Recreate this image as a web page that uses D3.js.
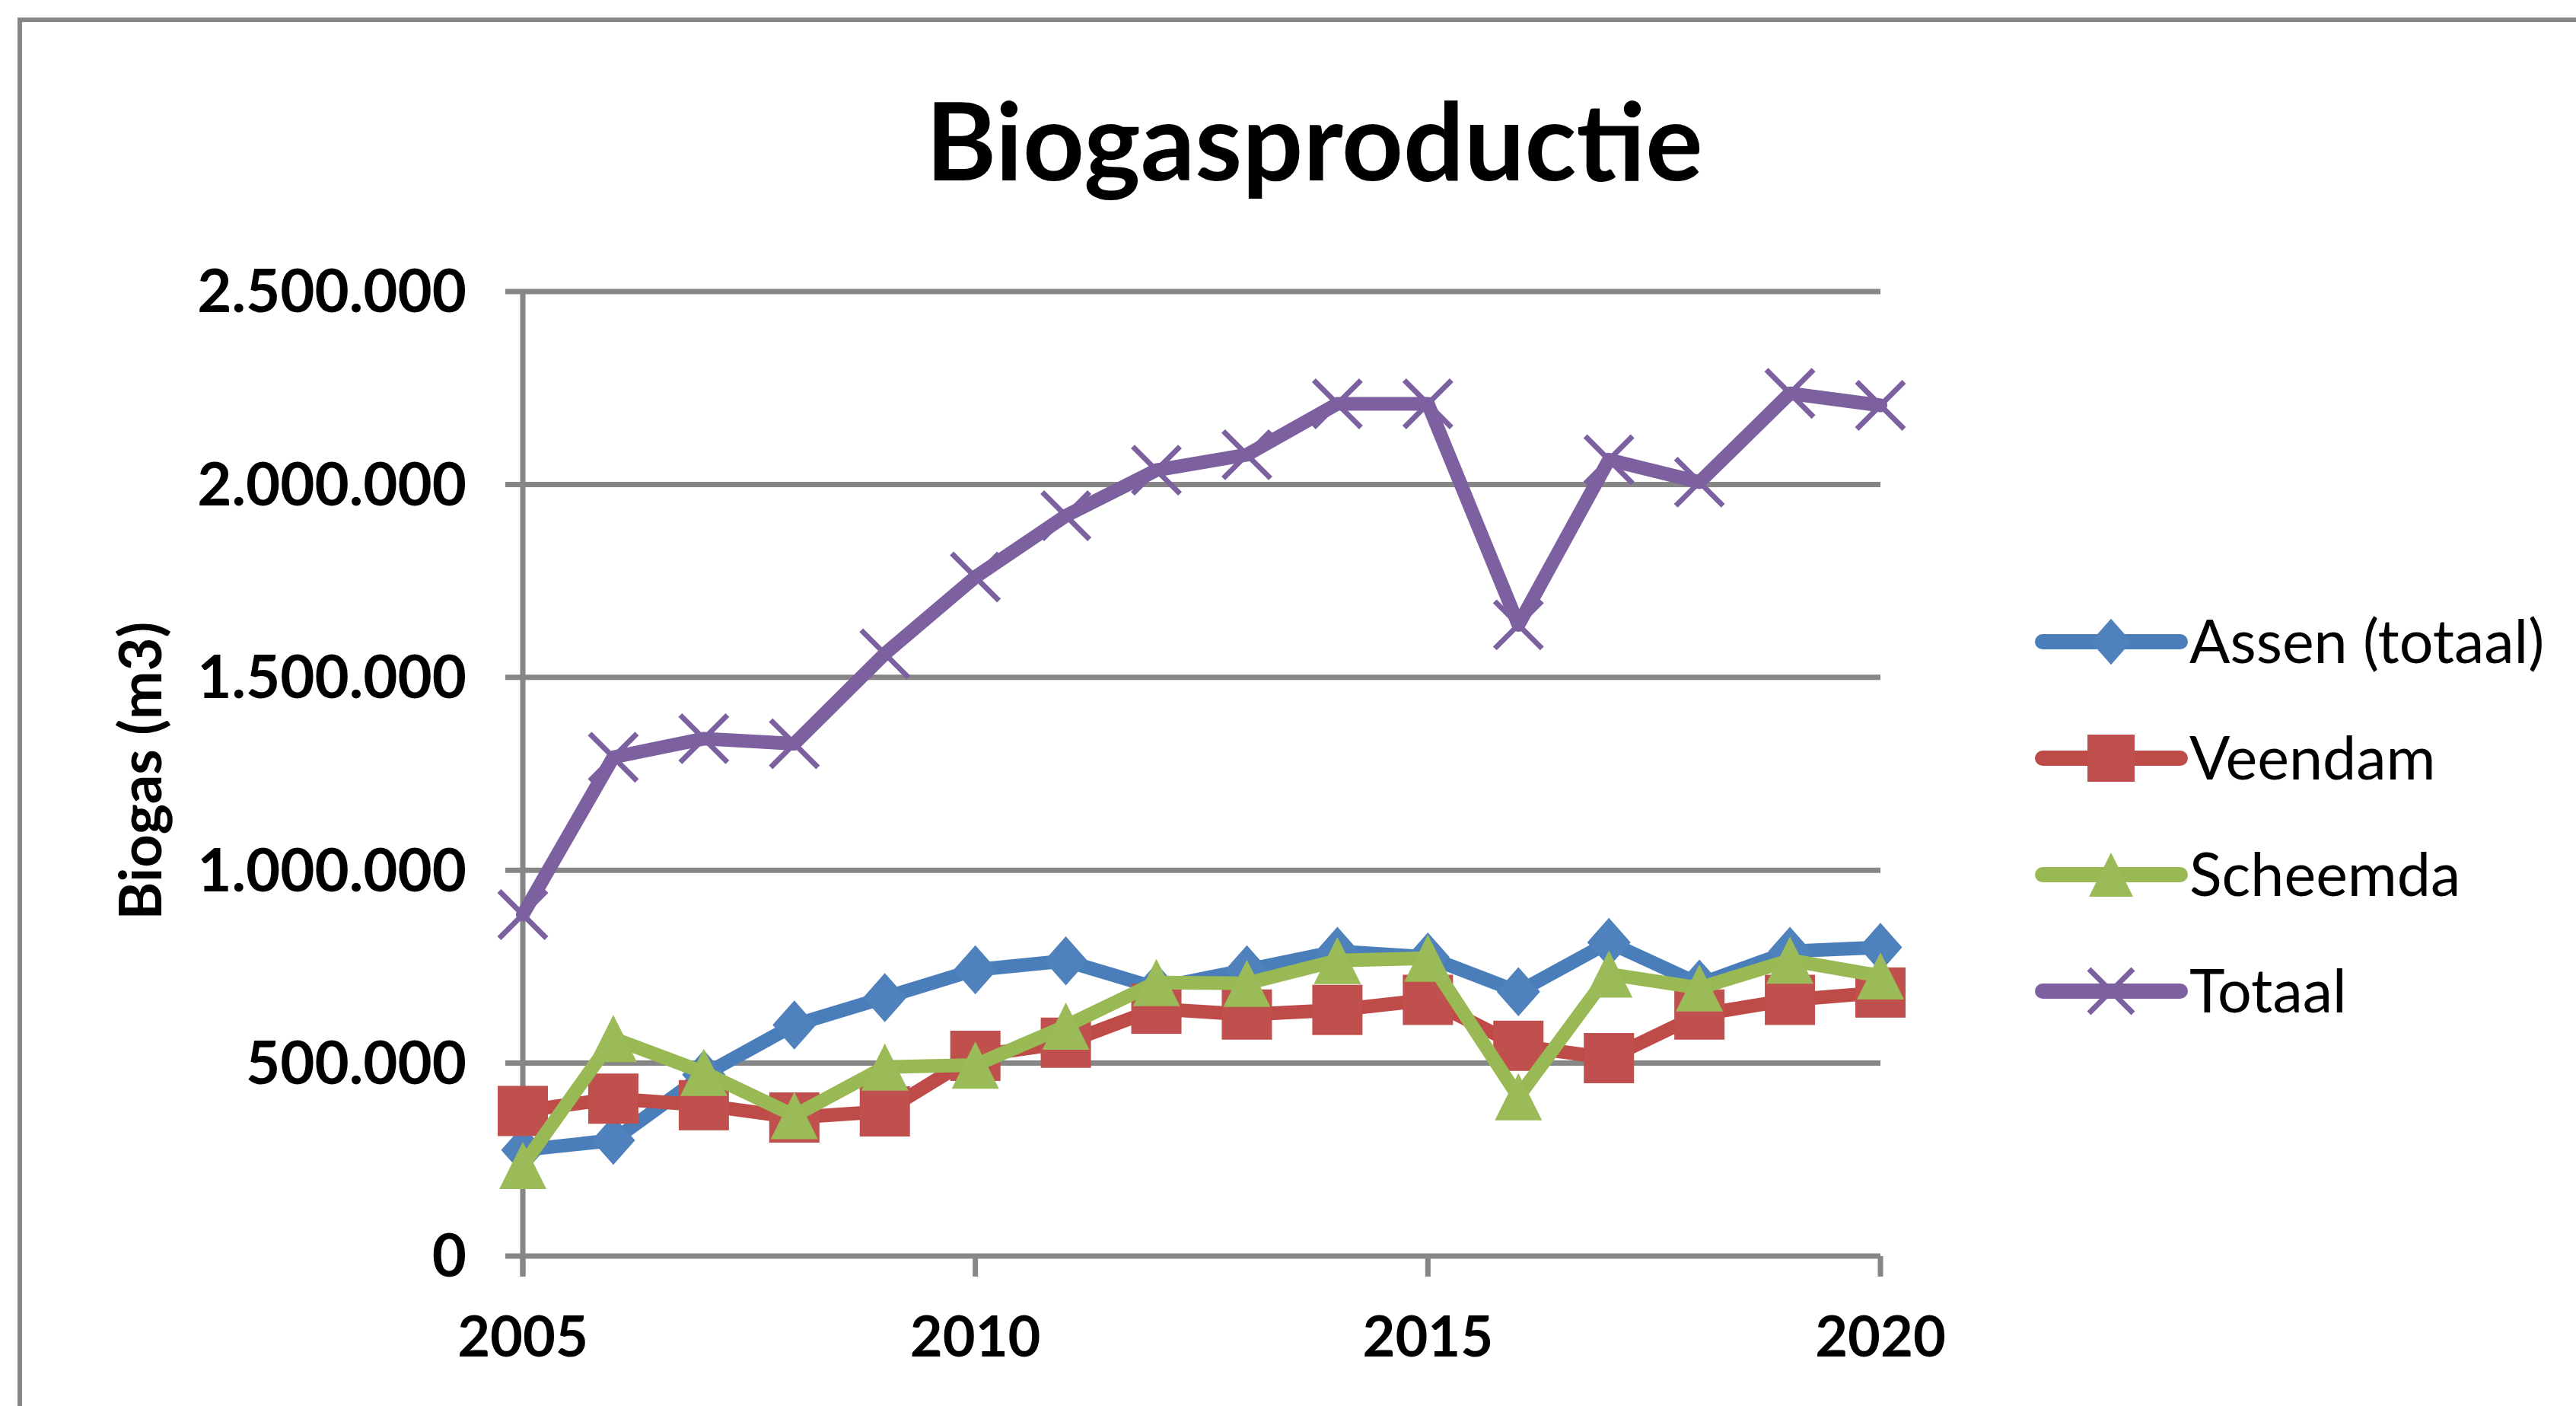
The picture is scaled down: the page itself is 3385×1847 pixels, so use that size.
<!DOCTYPE html>
<html>
<head>
<meta charset="utf-8">
<script src="https://cdn.jsdelivr.net/npm/d3@7"></script>
<style>
  body { margin: 0; background: #fff; }
  .chart text { font-family: Lato, "Open Sans", sans-serif; fill: #000; }
  .tickLbl { font-weight: bold; }
</style>
</head>
<body>
<div class="chart"></div>
<script>
"use strict";
// data
var years = [2005, 2006, 2007, 2008, 2009, 2010, 2011, 2012, 2013, 2014, 2015, 2016, 2017, 2018, 2019, 2020];
var assen    = [275000, 300000, 470000, 599000, 670000, 742000, 765000, 695000, 742000, 790000, 775000, 685000, 813000, 705000, 790000, 800000];
var veendam  = [376000, 408000, 391000, 359000, 375000, 519000, 553000, 641000, 626000, 638000, 664000, 545000, 513000, 626000, 664000, 683000];
var scheemda = [235000, 564000, 476000, 364000, 490000, 495000, 596000, 709000, 707000, 766000, 772000, 413000, 731000, 695000, 767000, 726000];
var totaal   = [885000, 1293000, 1341000, 1328000, 1561000, 1760000, 1919000, 2037000, 2077000, 2209000, 2209000, 1636000, 2064000, 2006000, 2236000, 2205000];
var seriesNames = ["Assen (totaal)", "Veendam", "Scheemda", "Totaal"];
var yTicks = [0, 500000, 1000000, 1500000, 2000000, 2500000];
var xTicks = [2005, 2010, 2015, 2020];

var W = 3385, H = 1847;
var margin = { top: 383, right: 914, bottom: 197, left: 687 };
var width = W - margin.left - margin.right,
    height = H - margin.top - margin.bottom;

var series = [
  { name: seriesNames[0], values: assen,    line: "#4a7ebb", fill: "#4f81bd", shape: "diamond" },
  { name: seriesNames[1], values: veendam,  line: "#be4b48", fill: "#c0504d", shape: "square" },
  { name: seriesNames[2], values: scheemda, line: "#98b954", fill: "#9bbb59", shape: "triangle" },
  { name: seriesNames[3], values: totaal,   line: "#7d60a0", fill: "#8064a2", shape: "x" }
];

var nl = d3.formatLocale({ decimal: ",", thousands: ".", grouping: [3], currency: ["€", ""] });
var fmt = nl.format(",d");

var svg = d3.select(".chart").append("svg")
    .attr("width", W).attr("height", H);

//outer frame
svg.append("rect")
    .attr("x", 26).attr("y", 26)
    .attr("width", W + 40).attr("height", H + 40)
    .style("fill", "none").style("stroke", "#868686").style("stroke-width", 6);

//title
svg.append("text")
    .attr("x", 1727).attr("y", 237)
    .attr("text-anchor", "middle")
    .style("font-size", "141px").style("font-weight", "bold")
    .text("Biogasproductie");

var g = svg.append("g")
    .attr("transform", "translate(" + margin.left + "," + margin.top + ")");

var x = d3.scaleLinear().domain([2005, 2020]).range([0, width]);
var y = d3.scaleLinear().domain([0, 2500000]).range([height, 0]);

//gridlines
g.selectAll(".grid").data(yTicks).enter()
  .append("line").attr("class", "grid")
  .attr("x1", -23).attr("x2", width)
  .attr("y1", function(d){ return y(d); })
  .attr("y2", function(d){ return y(d); })
  .style("stroke", "#868686").style("stroke-width", 7);

//y axis line
g.append("line")
  .attr("x1", 0).attr("x2", 0).attr("y1", 0).attr("y2", height + 27)
  .style("stroke", "#868686").style("stroke-width", 7);

//x ticks
g.selectAll(".xTick").data(xTicks).enter()
  .append("line").attr("class", "xTick")
  .attr("x1", function(d){ return x(d); })
  .attr("x2", function(d){ return x(d); })
  .attr("y1", height).attr("y2", height + 27)
  .style("stroke", "#868686").style("stroke-width", 7);

//tick labels
g.selectAll(".yLbl").data(yTicks).enter()
  .append("text").attr("class", "tickLbl yLbl")
  .attr("x", -74)
  .attr("y", function(d){ return y(d); })
  .attr("dy", "0.35em")
  .attr("text-anchor", "end")
  .style("font-size", "78px")
  .text(function(d){ return fmt(d); });

g.selectAll(".xLbl").data(xTicks).enter()
  .append("text").attr("class", "tickLbl xLbl")
  .attr("x", function(d){ return x(d); })
  .attr("y", height + 132)
  .attr("text-anchor", "middle")
  .style("font-size", "74px")
  .text(function(d){ return d; });

//y axis title
svg.append("text")
  .attr("transform", "translate(212," + (margin.top + height / 2 - 4) + ") rotate(-90)")
  .attr("text-anchor", "middle")
  .style("font-size", "76px").style("font-weight", "bold")
  .text("Biogas (m3)");

//markers
function drawMarker(sel, shape, s) {
  if (shape === "diamond") {
    sel.append("path")
      .attr("d", "M0," + (-s * 0.52) + "L" + (s * 0.46) + ",0L0," + (s * 0.52) + "L" + (-s * 0.46) + ",0Z");
  } else if (shape === "square") {
    sel.append("rect")
      .attr("x", -s / 2).attr("y", -s / 2).attr("width", s).attr("height", s);
  } else if (shape === "triangle") {
    sel.append("path")
      .attr("d", "M0," + (-s / 2) + "L" + (s / 2) + "," + (s / 2) + "L" + (-s / 2) + "," + (s / 2) + "Z");
  } else {
    sel.append("path")
      .attr("d", "M" + (-s / 2) + "," + (-s / 2) + "L" + (s / 2) + "," + (s / 2) + "M" + (s / 2) + "," + (-s / 2) + "L" + (-s / 2) + "," + (s / 2))
      .style("fill", "none");
  }
}

var line = d3.line()
  .x(function(d, i){ return x(years[i]); })
  .y(function(d){ return y(d); });

series.forEach(function(s){
  var sg = g.append("g").attr("class", "series");
  sg.append("path")
    .attr("d", line(s.values))
    .style("fill", "none")
    .style("stroke", s.line)
    .style("stroke-width", 18)
    .style("stroke-linejoin", "round")
    .style("stroke-linecap", "round");
  var pts = sg.selectAll(".pt").data(s.values).enter()
    .append("g").attr("class", "pt")
    .attr("transform", function(d, i){ return "translate(" + x(years[i]) + "," + y(d) + ")"; })
    .style("fill", s.fill)
    .style("stroke", s.shape === "x" ? s.line : "none")
    .style("stroke-width", 7);
  pts.each(function(){ drawMarker(d3.select(this), s.shape, s.shape === "square" ? 66 : 62); });
});

//legend
var legend = svg.selectAll(".legend").data(series).enter()
  .append("g").attr("class", "legend")
  .attr("transform", function(d, i){ return "translate(2684," + (843 + i * 153) + ")"; });

legend.append("line")
  .attr("x1", 0).attr("x2", 181).attr("y1", 0).attr("y2", 0)
  .style("stroke", function(d){ return d.line; })
  .style("stroke-width", 20)
  .style("stroke-linecap", "round");

legend.each(function(d){
  var m = d3.select(this).append("g")
    .attr("transform", "translate(90,0)")
    .style("fill", d.fill)
    .style("stroke", d.shape === "x" ? d.line : "none")
    .style("stroke-width", 7);
  drawMarker(m, d.shape, d.shape === "square" ? 62 : 58);
});

legend.append("text")
  .attr("x", 193).attr("y", 0).attr("dy", "0.36em")
  .style("font-size", "79px")
  .text(function(d){ return d.name; });
</script>
</body>
</html>
